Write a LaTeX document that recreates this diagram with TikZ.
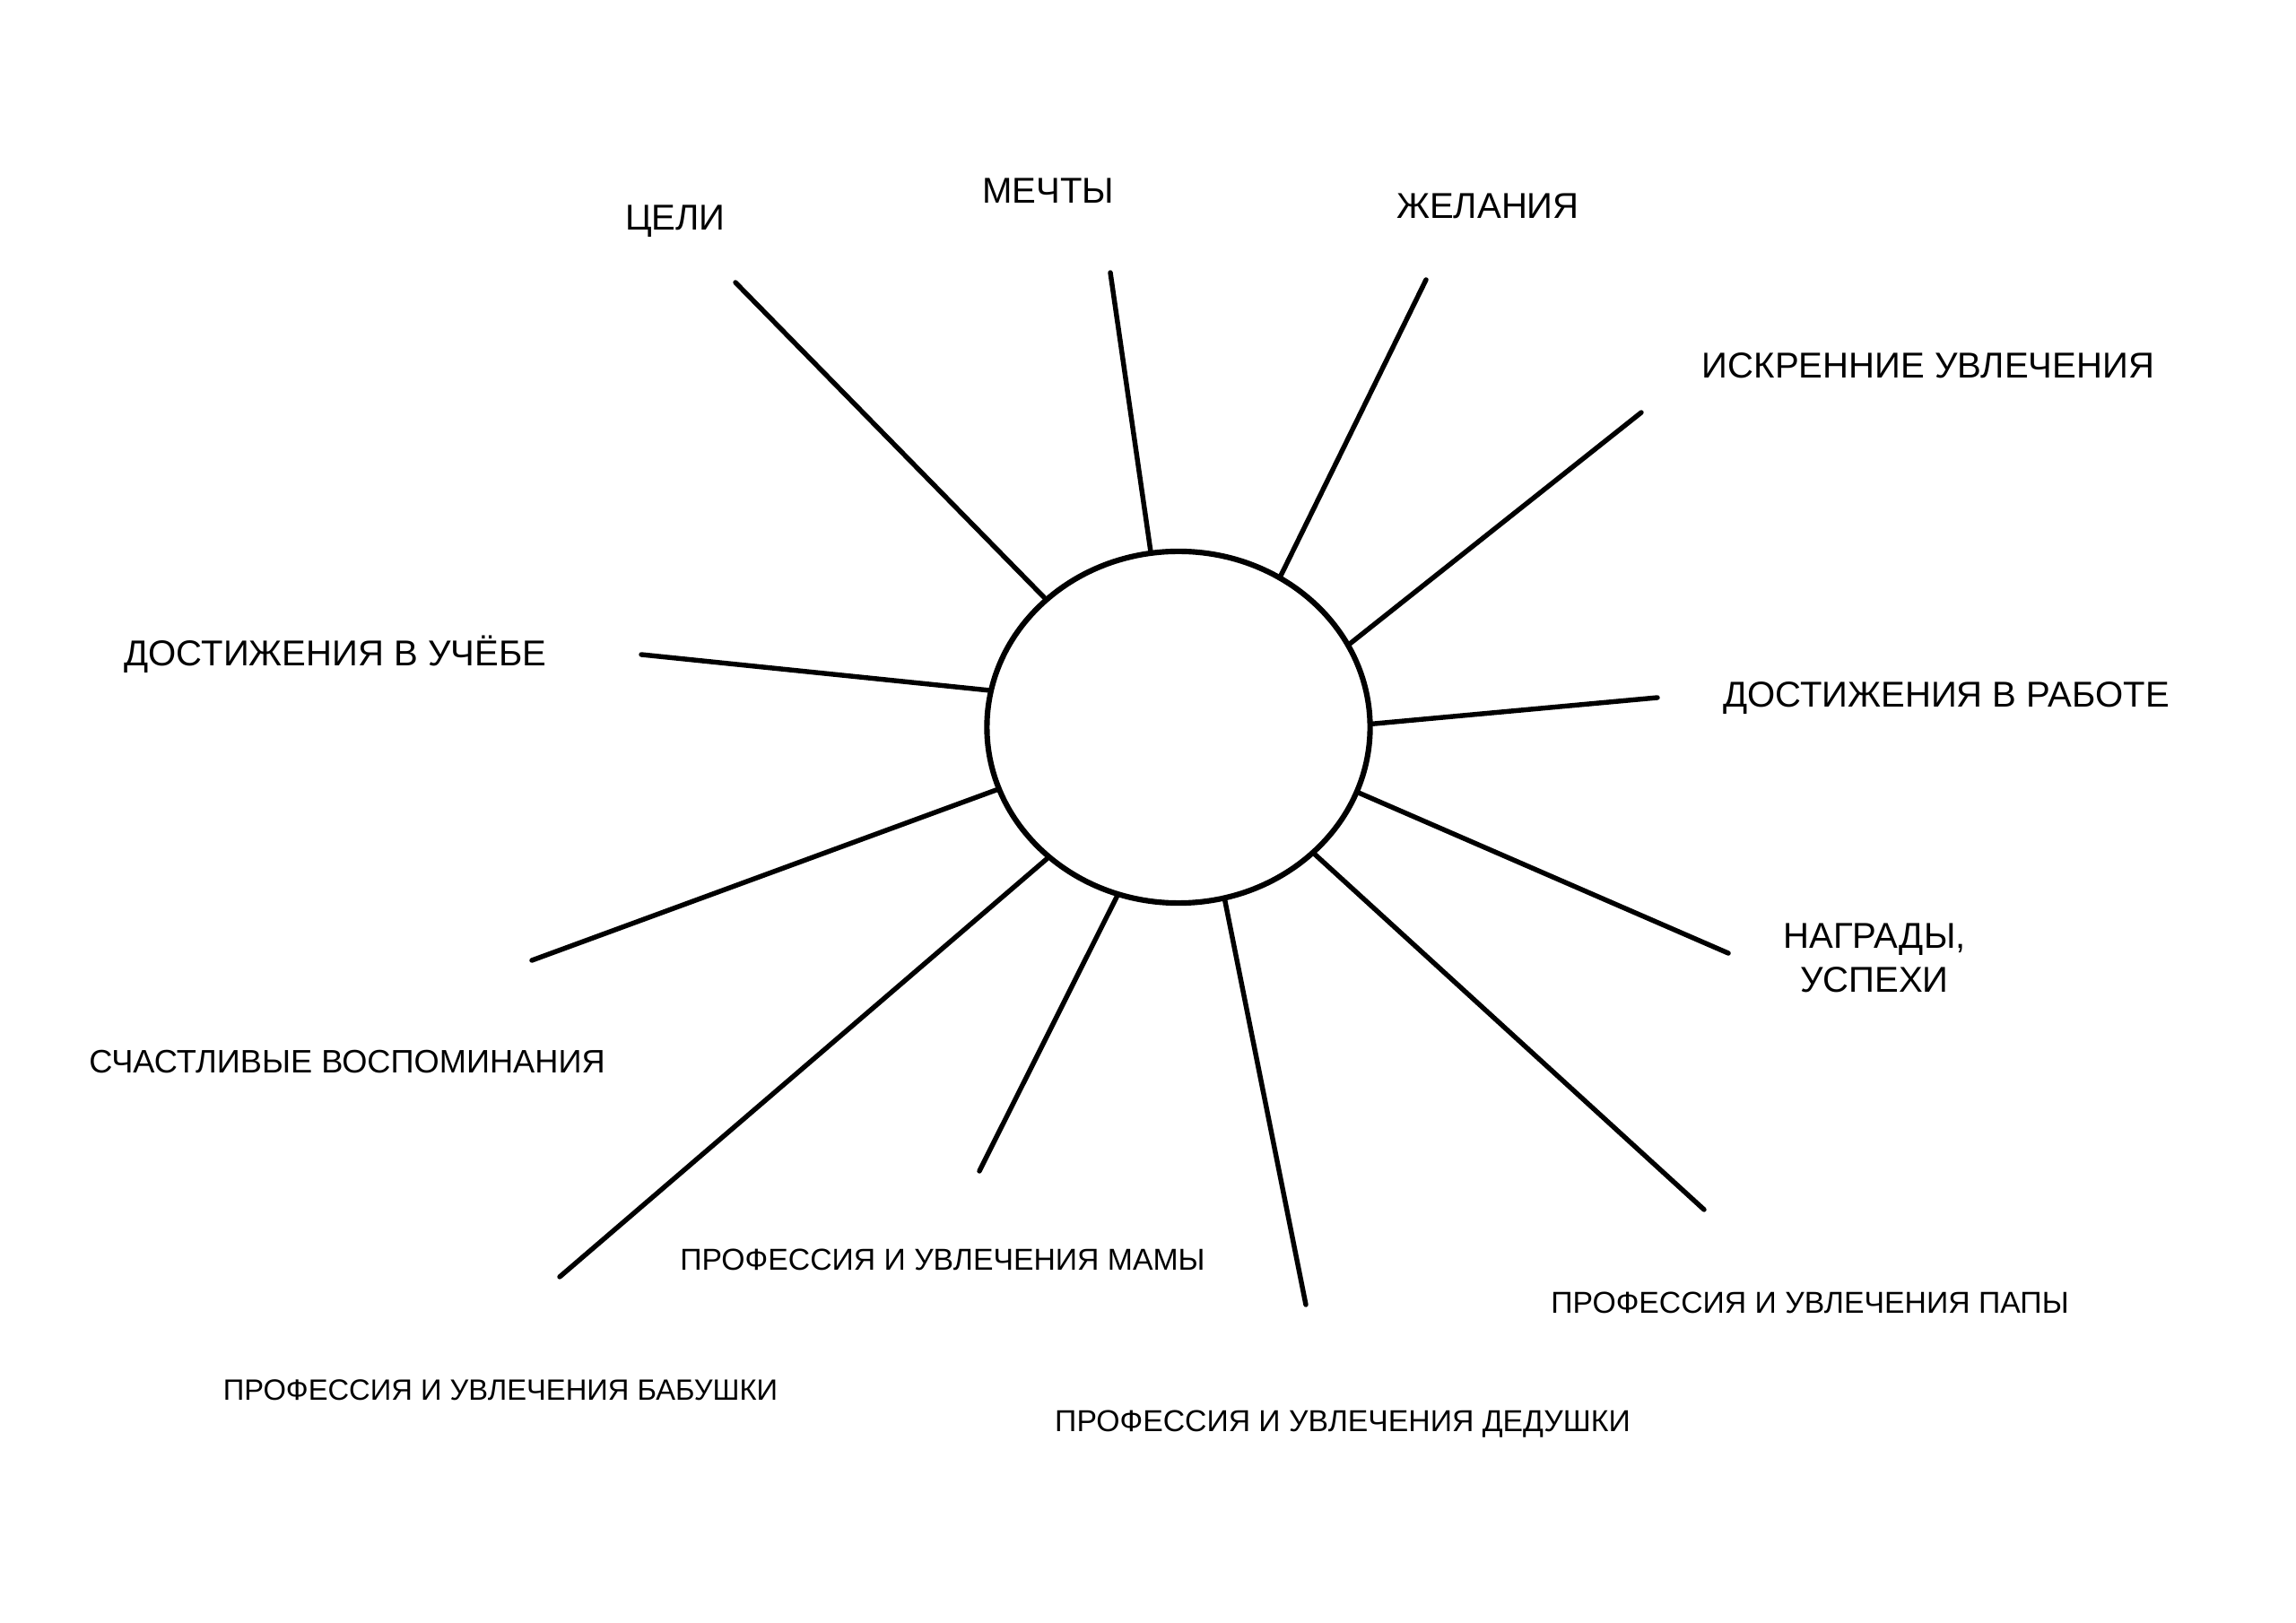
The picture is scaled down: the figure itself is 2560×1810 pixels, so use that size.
\documentclass[tikz,border=0pt]{standalone}
\usepackage{fontspec}
\setmainfont{Liberation Sans}
\usetikzlibrary{shapes.geometric}
\begin{document}
\begin{tikzpicture}[x=0.01cm,y=-0.01cm,
  ray/.style={line width=1.55pt, line cap=round},
  big/.style={font=\fontsize{11.4}{13.9}\selectfont, inner sep=0pt, anchor=base},
  bigml/.style={font=\fontsize{11.4}{13.9}\selectfont, inner sep=0pt, anchor=center, align=center},
  small/.style={font=\fontsize{9.6}{11.5}\selectfont, inner sep=0pt, anchor=base},
  mid/.style={font=\fontsize{10.3}{12.2}\selectfont, inner sep=0pt, anchor=base}]
\useasboundingbox (0,0) rectangle (2560,1810);
\fill[white] (0,0) rectangle (2560,1810);
\node[ellipse, draw, line width=1.75pt, inner sep=0pt, minimum width=4.27cm, minimum height=3.92cm] (c) at (1314,811) {};
% outer ends of rays
\coordinate (e1) at (820,315);
\coordinate (e2) at (1238,304);
\coordinate (e3) at (1590,312);
\coordinate (e4) at (1830,460);
\coordinate (e5) at (1848,778);
\coordinate (e6) at (1927,1063);
\coordinate (e7) at (1900,1349);
\coordinate (e8) at (1456,1455);
\coordinate (e9) at (1092,1306);
\coordinate (e10) at (624,1424);
\coordinate (e11) at (593,1071);
\coordinate (e12) at (715,730);
\draw[ray] (e1) -- (c.136.9);
\draw[ray] (e2) -- (c.99.8);
\draw[ray] (e3) -- (c.56.5);
\draw[ray] (e4) -- (c.26.3);
\draw[ray] (e5) -- (c.1.1);
\draw[ray] (e6) -- (c.-20.5);
\draw[ray] (e7) -- (c.-43.1);
\draw[ray] (e8) -- (c.-75.2);
\draw[ray] (e9) -- (c.-110.7);
\draw[ray] (e10) -- (c.-135.6);
\draw[ray] (e11) -- (c.-161.6);
\draw[ray] (e12) -- (c.169.7);
% labels
\node[big] (l1) at (753,257) {ЦЕЛИ};
\node[big] (l2) at (1169,227) {МЕЧТЫ};
\node[big] (l3) at (1659,244) {ЖЕЛАНИЯ};
\node[big] (l4) at (2150,422) {ИСКРЕННИЕ УВЛЕЧЕНИЯ};
\node[big] (l5) at (2170,789) {ДОСТИЖЕНИЯ В РАБОТЕ};
\node[bigml] (l6) at (2090,1068) {НАГРАДЫ,\\УСПЕХИ};
\node[small] (l7) at (2018,1464) {ПРОФЕССИЯ И УВЛЕЧЕНИЯ ПАПЫ};
\node[small] (l8) at (1497,1596) {ПРОФЕССИЯ И УВЛЕЧЕНИЯ ДЕДУШКИ};
\node[small] (l9) at (1051,1416) {ПРОФЕССИЯ И УВЛЕЧЕНИЯ МАМЫ};
\node[small, font=\fontsize{9.3}{11.2}\selectfont] (l10) at (558,1561) {ПРОФЕССИЯ И УВЛЕЧЕНИЯ БАБУШКИ};
\node[mid] (l11) at (387,1196) {СЧАСТЛИВЫЕ ВОСПОМИНАНИЯ};
\node[big] (l12) at (374,743) {ДОСТИЖЕНИЯ В УЧЁБЕ};
\end{tikzpicture}
\end{document}
